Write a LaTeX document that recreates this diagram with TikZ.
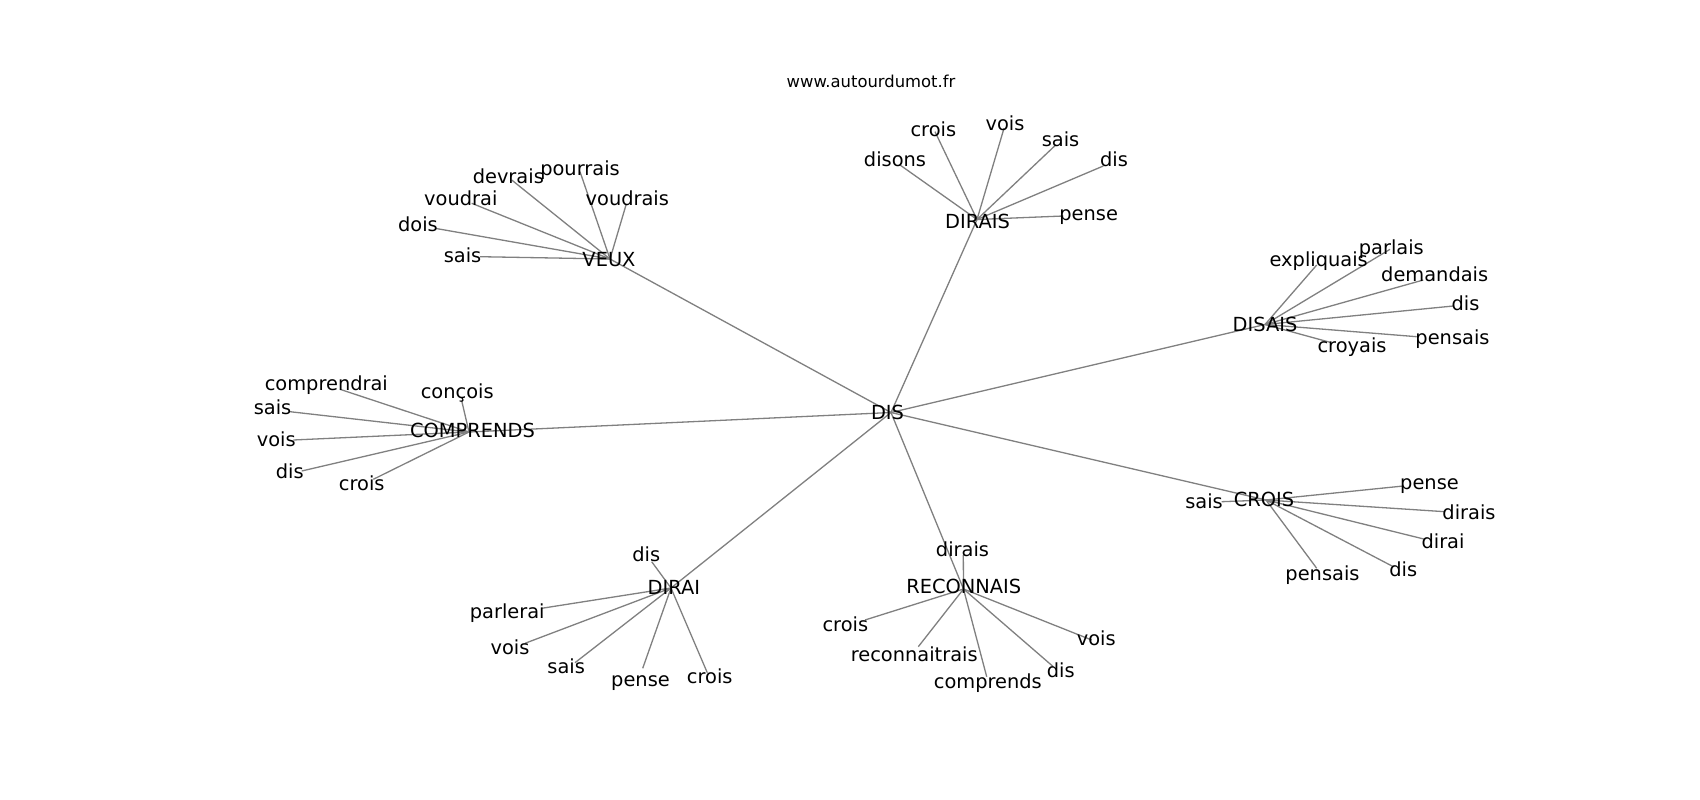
\documentclass[tikz,border=0pt]{standalone}
\usepackage{fontspec}
\setmainfont{DejaVu Sans}
\begin{document}
\begin{tikzpicture}[x=1pt,y=-1pt,
  lbl/.style={anchor=base,inner sep=0pt,font=\fontsize{19.4}{21}\selectfont},
  ttl/.style={anchor=base,inner sep=0pt,font=\fontsize{16.4}{18}\selectfont},
  edge/.style={draw=gray,line width=1.3pt}]
\fill[white] (0,0) rectangle (1700,800);
\useasboundingbox (0,0) rectangle (1700,800);

% hub points
\coordinate (dis) at (891,412.5);
\coordinate (veux) at (610,259);
\coordinate (dirais) at (977,219.5);
\coordinate (disais) at (1265,324.5);
\coordinate (crois) at (1266,500);
\coordinate (reconnais) at (963.5,589);
\coordinate (dirai) at (671,588);
\coordinate (comprends) at (469,432);

% leaf end points
\coordinate (v1) at (480,256.7);
\coordinate (v2) at (435,228.3);
\coordinate (v3) at (471.7,203.3);
\coordinate (v4) at (511.7,180);
\coordinate (v5) at (580,171.7);
\coordinate (v6) at (626,205);

\coordinate (d1) at (900,165);
\coordinate (d2) at (935,131.7);
\coordinate (d3) at (1004,128.3);
\coordinate (d4) at (1055.7,145);
\coordinate (d5) at (1103.3,166);
\coordinate (d6) at (1063.3,216);

\coordinate (s1) at (1316.7,265);
\coordinate (s2) at (1390,249.3);
\coordinate (s3) at (1423.3,280);
\coordinate (s4) at (1453.3,306);
\coordinate (s5) at (1416.7,336.7);
\coordinate (s6) at (1330,342.3);

\coordinate (c1) at (340,389.3);
\coordinate (c2) at (461.7,400.7);
\coordinate (c3) at (290,411.7);
\coordinate (c4) at (293.3,440);
\coordinate (c5) at (301.7,471);
\coordinate (c6) at (373.3,479.3);

\coordinate (r1) at (1221.7,501.7);
\coordinate (r2) at (1403.3,486);
\coordinate (r3) at (1445,511.7);
\coordinate (r4) at (1425,539.3);
\coordinate (r5) at (1393.3,566.7);
\coordinate (r6) at (1316.7,568.3);

\coordinate (i1) at (651.7,561.7);
\coordinate (i2) at (541.7,608.3);
\coordinate (i3) at (525,643.3);
\coordinate (i4) at (575,662.7);
\coordinate (i5) at (642.7,668.3);
\coordinate (i6) at (707.3,672.7);

\coordinate (n1) at (963.3,555);
\coordinate (n2) at (865,620);
\coordinate (n3) at (918.3,646.7);
\coordinate (n4) at (986.7,676.7);
\coordinate (n5) at (1053.3,666.7);
\coordinate (n6) at (1091.7,640);

% edges
\foreach \h in {veux,dirais,disais,crois,reconnais,dirai,comprends}
  \draw[edge] (dis) -- (\h);
\foreach \k in {1,...,6}{
  \draw[edge] (veux) -- (v\k);
  \draw[edge] (dirais) -- (d\k);
  \draw[edge] (disais) -- (s\k);
  \draw[edge] (comprends) -- (c\k);
  \draw[edge] (crois) -- (r\k);
  \draw[edge] (dirai) -- (i\k);
  \draw[edge] (reconnais) -- (n\k);
}

% title
\node[ttl] (title) at (871,87.3) {www.autourdumot.fr};

% hub labels
\node[lbl] (disT) at (887.5,419.3) {DIS};
\node[lbl] (veuxT) at (609,266.7) {VEUX};
\node[lbl] (diraisT) at (977.5,228.3) {DIRAIS};
\node[lbl] (disaisT) at (1265,331.5) {DISAIS};
\node[lbl] (croisT) at (1264,506.7) {CROIS};
\node[lbl] (reconnaisT) at (963.7,593.3) {RECONNAIS};
\node[lbl] (diraiT) at (673.8,594) {DIRAI};
\node[lbl] (comprendsT) at (472.5,437.3) {COMPRENDS};

% VEUX leaves
\node[lbl] (v1T) at (462.5,262) {sais};
\node[lbl] (v2T) at (418,231.7) {dois};
\node[lbl] (v3T) at (460.8,205) {voudrai};
\node[lbl] (v4T) at (508.3,183.3) {devrais};
\node[lbl] (v5T) at (580,175) {pourrais};
\node[lbl] (v6T) at (627.3,205) {voudrais};

% DIRAIS leaves
\node[lbl] (d1T) at (895,166.7) {disons};
\node[lbl] (d2T) at (933.3,136) {crois};
\node[lbl] (d3T) at (1005,130) {vois};
\node[lbl] (d4T) at (1060.5,146) {sais};
\node[lbl] (d5T) at (1114,166.7) {dis};
\node[lbl] (d6T) at (1088.7,220) {pense};

% DISAIS leaves
\node[lbl] (s1T) at (1318.7,266) {expliquais};
\node[lbl] (s2T) at (1391.3,254) {parlais};
\node[lbl] (s3T) at (1434.7,281.7) {demandais};
\node[lbl] (s4T) at (1465.5,310) {dis};
\node[lbl] (s5T) at (1452.5,344) {pensais};
\node[lbl] (s6T) at (1352,352.5) {croyais};

% COMPRENDS leaves
\node[lbl] (c1T) at (326.3,390.7) {comprendrai};
\node[lbl] (c2T) at (457.2,398.3) {conçois};
\node[lbl] (c3T) at (272.5,414) {sais};
\node[lbl] (c4T) at (276.2,446) {vois};
\node[lbl] (c5T) at (289.7,478.3) {dis};
\node[lbl] (c6T) at (361.7,490) {crois};

% CROIS leaves
\node[lbl] (r1T) at (1204,508.3) {sais};
\node[lbl] (r2T) at (1429.5,489.3) {pense};
\node[lbl] (r3T) at (1469,519.3) {dirais};
\node[lbl] (r4T) at (1443,548.3) {dirai};
\node[lbl] (r5T) at (1403.3,576) {dis};
\node[lbl] (r6T) at (1322.5,580.7) {pensais};

% DIRAI leaves
\node[lbl] (i1T) at (646.3,561.7) {dis};
\node[lbl] (i2T) at (507.2,618.3) {parlerai};
\node[lbl] (i3T) at (510,654) {vois};
\node[lbl] (i4T) at (566.2,673.3) {sais};
\node[lbl] (i5T) at (640.5,686.5) {pense};
\node[lbl] (i6T) at (709.7,683.3) {crois};

% RECONNAIS leaves
\node[lbl] (n1T) at (962.5,556) {dirais};
\node[lbl] (n2T) at (845.3,631.7) {crois};
\node[lbl] (n3T) at (914.2,661.7) {reconnaitrais};
\node[lbl] (n4T) at (987.8,688.3) {comprends};
\node[lbl] (n5T) at (1060.8,677.3) {dis};
\node[lbl] (n6T) at (1096.2,645) {vois};
\end{tikzpicture}
\end{document}
